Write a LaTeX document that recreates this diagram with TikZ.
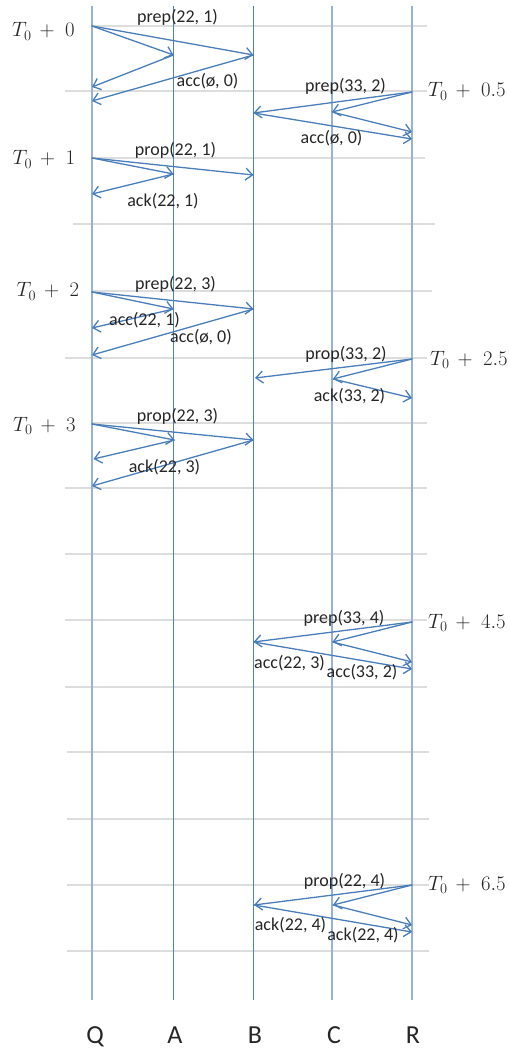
\documentclass[tikz,border=0pt]{standalone}
\usepackage{fontspec}
\setmainfont{Carlito}
\usetikzlibrary{arrows.meta}
\definecolor{msgblue}{HTML}{4A7EBB}
\definecolor{darkline}{HTML}{4F81BD}
\definecolor{lightline}{HTML}{95B3D7}
\definecolor{gridgray}{HTML}{DDDDDD}
\definecolor{txt}{HTML}{262626}
\newcommand{\tlab}[1]{$T_0\mkern3mu+\mkern5mu#1$}
\tikzset{
  msg/.style={draw=msgblue, line width=1.3pt, line cap=round,
    -{Straight Barb[length=7pt,width=12pt,line width=1.3pt]}},
  lbl/.style={font=\fontsize{18}{21}\selectfont, text=txt, inner sep=0pt, anchor=base},
  tlbl/.style={font=\fontsize{22}{26}\selectfont, text=txt, inner sep=0pt, anchor=base west},
  plbl/.style={font=\fontsize{26}{30}\selectfont, text=txt, inner sep=0pt, anchor=base},
  darkv/.style={draw=darkline, line width=1.3pt},
  lightv/.style={draw=lightline, line width=1.7pt},
  grid/.style={draw=gridgray, line width=1.2pt}
}
\begin{document}
\begin{tikzpicture}[x=1pt,y=-1pt]
\useasboundingbox (0,0) rectangle (508,1048);
% grid lines
\foreach \yy/\xa/\xb in {26/92/427, 91/65/427, 158/92/425, 224/73/435, 291/92/432,
  358/65/427, 423/92/427, 488/65/427, 554/65/427, 620/65/427, 687/65/427,
  752/67/429, 819/67/429, 885/67/429, 951/67/429}
  \draw[grid] (\xa,\yy) -- (\xb,\yy);
% lifelines
\coordinate (Qt) at (92,6);  \coordinate (Qb) at (92,1000);
\coordinate (At) at (173.5,6); \coordinate (Ab) at (173.5,1000);
\coordinate (Bt) at (253.5,6); \coordinate (Bb) at (253.5,1000);
\coordinate (Ct) at (332,6); \coordinate (Cb) at (332,1000);
\coordinate (Rt) at (412,6); \coordinate (Rb) at (412,1000);
\draw[lightv] (Qt) -- (Qb);
\draw[darkv] (At) -- (Ab);
\draw[darkv] (Bt) -- (Bb);
\draw[lightv] (Ct) -- (Cb);
\draw[lightv] (Rt) -- (Rb);
% block 1
\coordinate (s1) at (92,26);
\coordinate (a1) at (173.5,55);
\coordinate (b1) at (253.5,55);
\coordinate (q1a) at (92,87);
\coordinate (q1b) at (92,101);
\draw[msg] (s1) -- (a1);
\draw[msg] (s1) -- (b1);
\draw[msg] (a1) -- (q1a);
\draw[msg] (b1) -- (q1b);
% block 2
\coordinate (s2) at (412,92);
\coordinate (c2) at (332,112);
\coordinate (b2) at (253.5,113);
\coordinate (r2a) at (412,132);
\coordinate (r2b) at (412,139);
\draw[msg] (s2) -- (c2);
\draw[msg] (s2) -- (b2);
\draw[msg] (c2) -- (r2a);
\draw[msg] (b2) -- (r2b);
% block 3
\coordinate (s3) at (92,158);
\coordinate (a3) at (173.5,174);
\coordinate (b3) at (253.5,175);
\coordinate (q3) at (92,194);
\draw[msg] (s3) -- (a3);
\draw[msg] (s3) -- (b3);
\draw[msg] (a3) -- (q3);
% block 4
\coordinate (s4) at (92,292);
\coordinate (a4) at (173.5,309);
\coordinate (b4) at (253.5,309);
\coordinate (q4a) at (92,328);
\coordinate (q4b) at (92,355);
\draw[msg] (s4) -- (a4);
\draw[msg] (s4) -- (b4);
\draw[msg] (a4) -- (q4a);
\draw[msg] (b4) -- (q4b);
% block 5
\coordinate (s5) at (412,359);
\coordinate (c5) at (333,379);
\coordinate (b5) at (255,378);
\coordinate (r5) at (412,398);
\draw[msg] (s5) -- (c5);
\draw[msg] (s5) -- (b5);
\draw[msg] (c5) -- (r5);
% block 6
\coordinate (s6) at (92,424);
\coordinate (a6) at (174.5,440);
\coordinate (b6) at (253.5,440);
\coordinate (q6a) at (93.5,459);
\coordinate (q6b) at (92,486);
\draw[msg] (s6) -- (a6);
\draw[msg] (s6) -- (b6);
\draw[msg] (a6) -- (q6a);
\draw[msg] (b6) -- (q6b);
% block 7
\coordinate (s7) at (412,622);
\coordinate (c7) at (332.5,642);
\coordinate (b7) at (253.5,642);
\coordinate (r7a) at (412,662);
\coordinate (r7b) at (412,669);
\draw[msg] (s7) -- (c7);
\draw[msg] (s7) -- (b7);
\draw[msg] (c7) -- (r7a);
\draw[msg] (b7) -- (r7b);
% block 8
\coordinate (s8) at (412,885);
\coordinate (c8) at (333,905);
\coordinate (b8) at (254,905);
\coordinate (r8a) at (412,925);
\coordinate (r8b) at (412,932);
\draw[msg] (s8) -- (c8);
\draw[msg] (s8) -- (b8);
\draw[msg] (c8) -- (r8a);
\draw[msg] (b8) -- (r8b);
% message labels
\node[lbl] (m1) at (177.5,23) {prep(22, 1)};
\node[lbl] (m2) at (207.5,87) {acc(ø, 0)};
\node[lbl] (m3) at (345.5,92) {prep(33, 2)};
\node[lbl] (m4) at (331.5,144) {acc(ø, 0)};
\node[lbl] (m5) at (175.5,156) {prop(22, 1)};
\node[lbl] (m6) at (163,207) {ack(22, 1)};
\node[lbl] (m7) at (175.5,290) {prep(22, 3)};
\node[lbl] (m8) at (144.5,325.5) {acc(22, 1)};
\node[lbl] (m9) at (201,342.5) {acc(ø, 0)};
\node[lbl] (m10) at (346,359) {prop(33, 2)};
\node[lbl] (m11) at (349.5,401) {ack(33, 2)};
\node[lbl] (m12) at (177.5,421) {prop(22, 3)};
\node[lbl] (m13) at (164.5,472.5) {ack(22, 3)};
\node[lbl] (m14) at (344,623) {prep(33, 4)};
\node[lbl] (m15) at (289.5,668) {acc(22, 3)};
\node[lbl] (m16) at (362,677) {acc(33, 2)};
\node[lbl] (m17) at (344.5,886) {prop(22, 4)};
\node[lbl] (m18) at (290.5,930.5) {ack(22, 4)};
\node[lbl] (m19) at (363,940) {ack(22, 4)};
% time labels
\node[tlbl] (t0) at (12,37) {\tlab{0}};
\node[tlbl] (t1) at (12.5,165) {\tlab{1}};
\node[tlbl] (t2) at (16.5,297) {\tlab{2}};
\node[tlbl] (t3) at (13,431) {\tlab{3}};
\node[tlbl] (t05) at (428,97) {\tlab{0.5}};
\node[tlbl] (t25) at (430,365) {\tlab{2.5}};
\node[tlbl] (t45) at (428,628) {\tlab{4.5}};
\node[tlbl] (t65) at (428,890) {\tlab{6.5}};
% process labels
\node[plbl] (lQ) at (95,1043) {Q};
\node[plbl] (lA) at (175,1043) {A};
\node[plbl] (lB) at (255,1043) {B};
\node[plbl] (lC) at (334,1043) {C};
\node[plbl] (lR) at (413,1043) {R};
\end{tikzpicture}
\end{document}
